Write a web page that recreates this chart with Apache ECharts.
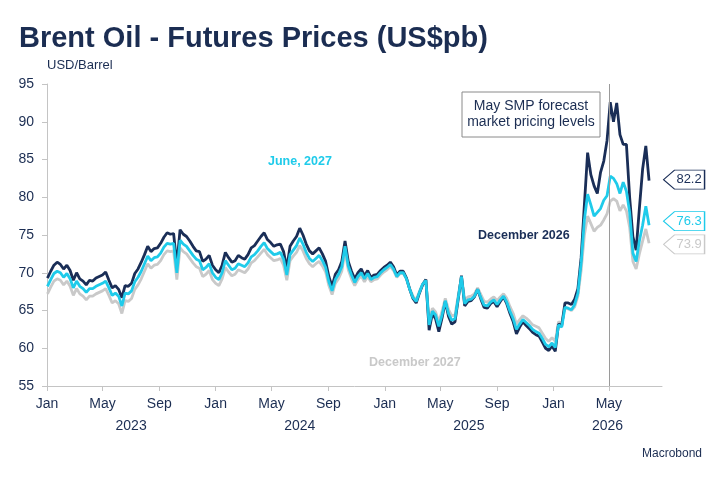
<!DOCTYPE html>
<html>
<head>
<meta charset="utf-8">
<script src="https://cdn.jsdelivr.net/npm/echarts@6/dist/echarts.min.js"></script>
<style>
html,body{margin:0;padding:0;background:#fff;}
#chart{width:725px;height:484px;}
</style>
</head>
<body>
<div id="chart"></div>
<script>
// Weekly observations starting Monday 2 Jan 2023
var startYear = 2023, startMonth = 0, startDay = 2;

var dec2026 = [
69.3,70.2,71.0,71.4,71.1,70.5,71.0,70.3,69.0,70.0,
69.2,68.9,68.4,69.0,68.9,69.3,69.5,69.7,70.1,69.0,
68.0,68.3,67.8,66.7,68.3,68.2,68.6,69.9,70.5,71.4,
72.4,73.5,72.8,73.2,73.3,73.9,74.7,75.3,75.1,75.2,
71.0,75.7,75.1,74.8,74.2,73.5,72.9,72.8,71.5,71.8,
72.3,71.0,70.4,70.0,71.0,72.7,72.0,71.4,71.6,72.3,
72.0,71.8,72.4,73.3,73.6,74.2,74.8,75.3,74.4,74.0,
73.5,73.7,73.8,72.8,70.6,73.5,74.2,74.8,75.9,75.0,
73.8,72.9,72.5,72.9,73.3,72.5,71.5,69.5,68.2,69.8,
70.4,71.5,74.2,71.5,70.2,69.2,70.0,70.5,69.6,70.3,
69.4,69.7,69.8,70.3,70.7,71.0,71.4,70.8,69.7,70.2,
70.2,69.3,67.8,66.6,66.0,67.3,68.4,69.1,62.4,64.6,
63.9,62.2,64.0,66.2,64.2,63.2,63.5,66.5,69.6,65.6,
66.2,66.3,66.8,67.8,66.5,65.4,65.3,65.9,66.2,65.5,
66.2,66.8,65.9,64.6,63.5,61.9,62.8,63.5,63.0,62.6,
62.1,61.8,61.6,60.8,60.0,59.7,60.3,59.6,63.2,63.0,
66.0,66.0,65.8,66.5,67.9,72.0,79.0,85.9,83.0,81.5,
80.5,83.3,84.8,87.5,92.6,90.0,92.5,88.3,87.0,87.0,
80.0,74.8,73.0,78.5,83.7,86.8,82.2
];

var jun2027 = [
68.2,69.1,69.9,70.2,70.0,69.4,69.9,69.2,68.0,68.9,
68.2,67.9,67.4,67.9,67.9,68.2,68.4,68.6,68.9,68.0,
67.0,67.3,66.9,65.6,67.3,67.2,67.6,68.8,69.4,70.2,
71.2,72.2,71.6,72.0,72.1,72.6,73.4,73.9,73.8,73.9,
70.0,74.3,73.8,73.5,72.9,72.3,71.8,71.6,70.4,70.7,
71.2,70.0,69.4,69.1,70.0,71.6,71.0,70.4,70.6,71.2,
71.0,70.8,71.3,72.1,72.4,72.9,73.5,74.0,73.2,72.8,
72.4,72.5,72.7,71.8,69.7,72.4,73.0,73.6,74.6,73.8,
72.7,71.9,71.5,71.9,72.3,71.6,70.7,68.8,67.6,69.1,
69.8,70.8,73.5,70.9,69.7,68.7,69.5,70.0,69.2,69.9,
69.1,69.4,69.5,70.0,70.4,70.7,71.1,70.5,69.5,70.0,
70.0,69.2,67.8,66.7,66.2,67.4,68.5,69.0,63.1,64.9,
64.4,62.9,64.4,66.3,64.6,63.7,63.9,66.7,69.5,65.9,
66.4,66.5,66.9,67.8,66.7,65.7,65.6,66.1,66.4,65.8,
66.4,66.9,66.1,64.9,63.9,62.5,63.2,63.8,63.4,63.0,
62.5,62.2,62.0,61.3,60.5,60.2,60.7,60.1,63.1,62.8,
65.4,65.3,65.1,65.8,67.3,71.3,77.0,80.4,79.0,77.5,
78.0,78.5,79.6,80.2,82.8,82.5,81.8,80.5,82.0,80.8,
78.0,72.6,71.5,74.2,76.3,78.8,76.3
];

var dec2027 = [
67.2,68.1,68.9,69.2,69.0,68.4,68.9,68.2,67.0,67.9,
67.2,66.9,66.4,66.9,66.9,67.2,67.4,67.6,67.9,67.0,
66.0,66.3,65.9,64.6,66.3,66.2,66.6,67.8,68.4,69.2,
70.2,71.2,70.6,71.0,71.1,71.6,72.4,72.9,72.8,72.9,
69.1,73.3,72.8,72.5,71.9,71.3,70.8,70.6,69.5,69.8,
70.3,69.1,68.6,68.3,69.2,70.7,70.1,69.6,69.8,70.4,
70.2,70.0,70.5,71.3,71.6,72.1,72.6,73.1,72.4,72.0,
71.6,71.7,71.9,71.0,69.0,71.6,72.2,72.7,73.6,72.9,
71.9,71.2,70.8,71.2,71.5,70.9,70.1,68.3,67.1,68.6,
69.2,70.2,72.8,70.4,69.2,68.3,69.1,69.6,68.8,69.5,
68.8,69.1,69.2,69.7,70.1,70.4,70.8,70.3,69.4,69.9,
69.9,69.2,67.9,66.9,66.4,67.5,68.5,69.1,63.6,65.3,
64.8,63.5,64.9,66.6,65.1,64.3,64.4,67.0,69.5,66.4,
66.8,66.9,67.2,68.0,67.1,66.2,66.1,66.5,66.8,66.3,
66.8,67.2,66.6,65.5,64.6,63.2,63.8,64.3,64.0,63.6,
63.1,62.9,62.7,62.0,61.3,60.9,61.4,60.9,63.5,63.3,
65.4,65.2,65.0,65.5,66.9,70.3,75.0,77.5,76.5,75.5,
76.0,76.3,77.0,77.8,79.5,79.8,79.5,78.2,79.0,78.2,
76.0,71.5,70.5,72.5,74.2,75.8,73.9
];

var seriesNames = ['December 2026', 'June, 2027', 'December 2027'];
var monthTickDates = ['2023-01-01','2023-05-01','2023-09-01','2024-01-01','2024-05-01','2024-09-01',
                      '2025-01-01','2025-05-01','2025-09-01','2026-01-01','2026-05-01'];
var monthNames = ['Jan','Feb','Mar','Apr','May','Jun','Jul','Aug','Sep','Oct','Nov','Dec'];
var yearLabelDates = ['2023-07-02','2024-07-01','2025-07-02','2026-04-28'];
var forecastDate = '2026-05-01';
var axisStart = '2023-01-01', axisEnd = '2026-08-24';

function ts(s){ var p = s.split('-'); return new Date(+p[0], +p[1]-1, +p[2]).getTime(); }
function pairs(vals){
  return vals.map(function(v,i){ return [new Date(startYear, startMonth, startDay + 7*i).getTime(), v]; });
}

var NAVY = '#1a2e57', CYAN = '#1fcbea', GREY = '#c9c9c9', TXT = '#1b2d52', AX = '#c4c4c4';
var FONT = '"Liberation Sans", Arial, sans-serif';

function endMark(vals, color, textColor, dy){
  var last = pairs(vals)[vals.length-1];
  return {
    silent: true,
    animation: false,
    symbol: 'path://M0,9.5 L11,0 L41,0 L41,19 L11,19 Z',
    symbolSize: [41, 19],
    symbolOffset: [35, dy],
    itemStyle: { color: '#fff', borderColor: color, borderWidth: 1 },
    label: { show: true, position: 'inside', offset: [5, 0], color: textColor, fontSize: 13, fontFamily: FONT,
             formatter: function(p){ return Number(p.value).toFixed(1); } },
    data: [{ coord: last, value: last[1] }]
  };
}

var chart = echarts.init(document.getElementById('chart'));
chart.setOption({
  animation: false,
  backgroundColor: '#fff',
  title: {
    text: 'Brent Oil - Futures Prices (US$pb)',
    left: 14, top: 19,
    textStyle: { fontSize: 29, fontWeight: 'bold', color: TXT, fontFamily: FONT }
  },
  grid: { left: 47, right: 63, top: 84, bottom: 98 },
  xAxis: [{
    type: 'value',
    min: ts(axisStart), max: ts(axisEnd),
    axisLine: { show: true, lineStyle: { color: AX, width: 1 } },
    axisTick: { show: true, length: 5, lineStyle: { color: AX }, customValues: monthTickDates.map(ts) },
    axisLabel: { color: TXT, fontSize: 14, margin: 11, fontFamily: FONT, showMinLabel: true, showMaxLabel: true,
                 customValues: monthTickDates.map(ts),
                 formatter: function(v){ return monthNames[new Date(v).getMonth()]; } },
    splitLine: { show: false }
  }, {
    type: 'value',
    position: 'bottom',
    min: ts(axisStart), max: ts(axisEnd),
    axisLine: { show: false },
    axisTick: { show: false },
    axisLabel: { color: TXT, fontSize: 14, margin: 33, fontFamily: FONT,
                 customValues: yearLabelDates.map(ts),
                 formatter: function(v){ return String(new Date(v).getFullYear()); } },
    splitLine: { show: false }
  }],
  yAxis: {
    type: 'value', min: 55, max: 95, interval: 5,
    axisLine: { show: true, lineStyle: { color: AX, width: 1 } },
    axisTick: { show: true, length: 5, lineStyle: { color: AX } },
    axisLabel: { color: TXT, fontSize: 14, margin: 13, fontFamily: FONT },
    splitLine: { show: false }
  },
  series: [{
    name: seriesNames[2], type: 'line', data: pairs(dec2027), showSymbol: false, symbol: 'none',
    lineStyle: { color: GREY, width: 2.8 }, itemStyle: { color: GREY },
    markPoint: endMark(dec2027, GREY, GREY, 1)
  }, {
    name: seriesNames[0], type: 'line', data: pairs(dec2026), showSymbol: false, symbol: 'none',
    lineStyle: { color: NAVY, width: 2.8 }, itemStyle: { color: NAVY },
    markPoint: endMark(dec2026, NAVY, NAVY, -1),
    markLine: { silent: true, symbol: 'none', animation: false,
                lineStyle: { color: '#9a9a9a', width: 1, type: 'solid' },
                label: { show: false },
                data: [{ xAxis: ts(forecastDate) }] }
  }, {
    name: seriesNames[1], type: 'line', data: pairs(jun2027), showSymbol: false, symbol: 'none',
    lineStyle: { color: CYAN, width: 2.8 }, itemStyle: { color: CYAN },
    markPoint: endMark(jun2027, CYAN, CYAN, -4)
  }],
  graphic: [
    { type: 'text', left: 47, top: 59, style: { text: 'USD/Barrel', fill: TXT, font: '13px ' + FONT } },
    { type: 'rect', shape: { x: 462, y: 92, width: 138, height: 45 },
      style: { fill: '#fff', stroke: '#8a8a8a', lineWidth: 1 }, z: 10 },
    { type: 'text', x: 531, y: 114.5, z: 11,
      style: { text: 'May SMP forecast\nmarket pricing levels', fill: TXT, font: '14px ' + FONT,
               align: 'center', verticalAlign: 'middle', lineHeight: 16 } },
    { type: 'text', x: 268, y: 162, style: { text: seriesNames[1], fill: CYAN, font: 'bold 12.5px ' + FONT, verticalAlign: 'middle' } },
    { type: 'text', x: 478, y: 236, style: { text: seriesNames[0], fill: NAVY, font: 'bold 12.5px ' + FONT, verticalAlign: 'middle' } },
    { type: 'text', x: 369, y: 363, style: { text: seriesNames[2], fill: GREY, font: 'bold 12.5px ' + FONT, verticalAlign: 'middle' } },
    { type: 'text', right: 23, top: 448, style: { text: 'Macrobond', fill: TXT, font: '12px ' + FONT } }
  ]
});
</script>
</body>
</html>
